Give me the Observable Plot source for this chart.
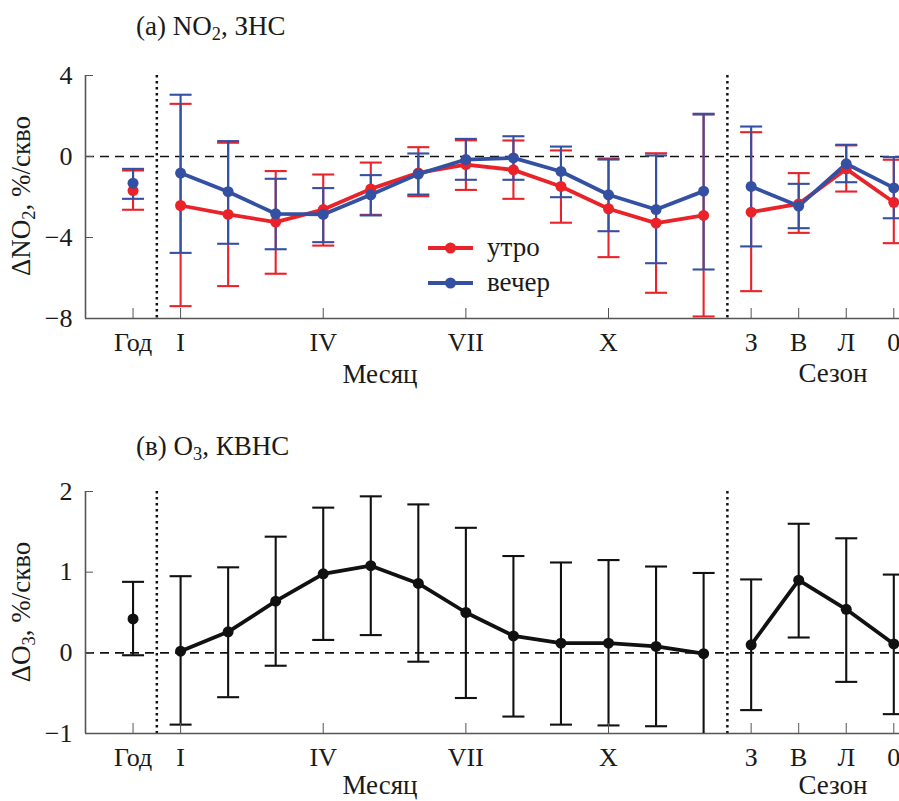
<!DOCTYPE html>
<html>
<head>
<meta charset="utf-8">
<script src="https://cdn.jsdelivr.net/npm/d3@7"></script>
<script src="https://cdn.jsdelivr.net/npm/@observablehq/plot@0.6"></script>
<style>
  html, body { margin: 0; padding: 0; background: #fff; overflow: hidden; }
  body { font-family: "Liberation Serif", "Times New Roman", serif; color: #1a1a1a; }
  .panel { position: relative; width: 899px; }
  .txt { position: absolute; font-size: 27px; line-height: 27px; white-space: nowrap; }
  .sub { font-size: 0.68em; position: relative; top: 0.28em; }
  .ylab { transform: translate(-50%, -50%) rotate(-90deg); }
  .center { transform: translateX(-50%); }
  .legend { position: absolute; display: flex; align-items: center; font-size: 27px; line-height: 27px; }
  .legend svg { margin-right: 14px; }
</style>
</head>
<body>
<div id="topPanel" class="panel" style="height:400px">
  <div class="txt" style="left:136px;top:13px">(а) NO<span class="sub">2</span>, ЗНС</div>
  <div class="txt ylab" style="left:23px;top:196px">ΔNO<span class="sub">2</span>, %/скво</div>
  <div class="txt center" style="left:380px;top:361px">Месяц</div>
  <div class="txt center" style="left:833px;top:360px">Сезон</div>
</div>
<div id="bottomPanel" class="panel" style="height:401px">
  <div class="txt" style="left:136px;top:33px">(в) O<span class="sub">3</span>, КВНС</div>
  <div class="txt ylab" style="left:23px;top:212px">ΔO<span class="sub">3</span>, %/скво</div>
  <div class="txt center" style="left:380px;top:372px">Месяц</div>
  <div class="txt center" style="left:833px;top:372px">Сезон</div>
</div>
<script>
// ---------- data ----------
const categories = ["Год","I","II","III","IV","V","VI","VII","VIII","IX","X","XI","XII","З","В","Л","0"];
const groups = ["год","месяц","месяц","месяц","месяц","месяц","месяц","месяц","месяц","месяц","месяц","месяц","месяц","сезон","сезон","сезон","сезон"];
const tickCategories = ["Год","I","IV","VII","X","З","В","Л","0"];
const seriesNames = ["утро", "вечер"];

// (а) NO2, ЗНС — утро
const no2MorningMean = [-1.68,-2.42,-2.86,-3.24,-2.62,-1.60,-0.81,-0.40,-0.66,-1.48,-2.58,-3.29,-2.91,-2.75,-2.34,-0.61,-2.26];
const no2MorningHi   = [-0.69, 2.60, 0.68,-0.72,-0.89,-0.30, 0.46, 0.80, 0.79, 0.30,-0.10, 0.16, 2.07, 1.20,-0.82, 0.55,-0.16];
const no2MorningLo   = [-2.63,-7.39,-6.40,-5.79,-4.40,-2.88,-1.96,-1.65,-2.09,-3.27,-4.97,-6.73,-7.90,-6.65,-3.77,-1.73,-4.28];
// (а) NO2, ЗНС — вечер
const no2EveningMean = [-1.32,-0.82,-1.74,-2.83,-2.86,-1.89,-0.87,-0.15,-0.07,-0.74,-1.89,-2.62,-1.71,-1.48,-2.45,-0.36,-1.55];
const no2EveningHi   = [-0.61, 3.05, 0.76,-1.10,-1.56,-0.92, 0.15, 0.87, 1.00, 0.49,-0.15, 0.05, 2.11, 1.48,-1.35, 0.58,-0.03];
const no2EveningLo   = [-2.09,-4.76,-4.31,-4.58,-4.23,-2.91,-1.88,-1.15,-1.15,-2.01,-3.69,-5.27,-5.58,-4.44,-3.54,-1.27,-3.05];
// (в) O3, КВНС
const o3Mean = [0.42, 0.02, 0.26, 0.64, 0.98, 1.08, 0.86, 0.50, 0.21, 0.12, 0.12, 0.08,-0.01, 0.10, 0.90, 0.54, 0.11];
const o3Hi   = [0.88, 0.95, 1.06, 1.44, 1.80, 1.94, 1.84, 1.55, 1.20, 1.12, 1.15, 1.07, 0.99, 0.91, 1.60, 1.42, 0.97];
const o3Lo   = [-0.03,-0.89,-0.55,-0.16, 0.16, 0.22,-0.11,-0.56,-0.79,-0.89,-0.90,-0.91,-1.05,-0.71, 0.19,-0.36,-0.76];

const no2YDomain = [-8, 4];
const no2YTicks = [-8, -4, 0, 4];
const o3YDomain = [-1, 2];
const o3YTicks = [-1, 0, 1, 2];

// ---------- helpers ----------
const RED = "#ea2229", BLUE = "#3450a2", BLACK = "#111";
const makeRows = (mean, lo, hi) => categories.map((c, i) => ({i, cat: c, group: groups[i], mean: mean[i], lo: lo[i], hi: hi[i]}));
const separators = [];
for (let i = 1; i < groups.length; i++) if (groups[i] !== groups[i - 1]) separators.push(i - 0.5);
const tickIdx = tickCategories.map(c => categories.indexOf(c));
const xDomain = [-1, categories.length - 1 + 0.12];
const capSymbol = { draw(ctx) { ctx.moveTo(-11, 0); ctx.lineTo(11, 0); } };
const minus = d => (d < 0 ? "\u2212" + Math.abs(d) : String(d));

function panel({series, yDomain, yTicks, height, marginTop, marginBottom}) {
  const marks = [
    Plot.ruleY([0], {stroke: BLACK, strokeWidth: 1.7, strokeDasharray: "9,6"}),
    Plot.ruleX(separators, {stroke: BLACK, strokeWidth: 2.5, strokeDasharray: "2.4,3.6"}),
    Plot.ruleX([xDomain[0]], {stroke: "#555", strokeWidth: 1.6}),
    Plot.ruleY([yDomain[0]], {stroke: "#555", strokeWidth: 1.6})
  ];
  for (const s of series) {
    marks.push(
      Plot.ruleX(s.data, {x: "i", y1: "lo", y2: "hi", stroke: s.color, strokeWidth: 2.1, clip: true}),
      Plot.dot(s.data, {x: "i", y: "lo", symbol: capSymbol, fill: "none", stroke: s.color, strokeWidth: 2.1, clip: true}),
      Plot.dot(s.data, {x: "i", y: "hi", symbol: capSymbol, fill: "none", stroke: s.color, strokeWidth: 2.1, clip: true})
    );
  }
  for (const s of series) {
    marks.push(Plot.line(s.data, {x: "i", y: "mean", z: "group", stroke: s.color, strokeWidth: 3.8}));
  }
  for (const s of series) {
    marks.push(Plot.dot(s.data, {x: "i", y: "mean", r: 5.5, fill: s.color, stroke: "none"}));
  }
  marks.push(
    Plot.axisX({ticks: tickIdx, tickFormat: i => categories[i], tickSize: -10, tickPadding: 24, stroke: "#555", fill: "#1a1a1a", label: null}),
    Plot.axisY({ticks: yTicks, tickFormat: minus, tickSize: -8, tickPadding: 21, stroke: "#555", fill: "#1a1a1a", label: null})
  );
  return Plot.plot({
    width: 899,
    height,
    marginLeft: 85,
    marginRight: 0,
    marginTop,
    marginBottom,
    style: {fontFamily: "'Liberation Serif', 'Times New Roman', serif", fontSize: "26px", background: "transparent", overflow: "visible"},
    x: {domain: xDomain},
    y: {domain: yDomain},
    marks
  });
}

const chartTop = panel({
  series: [
    {data: makeRows(no2MorningMean, no2MorningLo, no2MorningHi), color: RED},
    {data: makeRows(no2EveningMean, no2EveningLo, no2EveningHi), color: BLUE}
  ],
  yDomain: no2YDomain, yTicks: no2YTicks, height: 400, marginTop: 75, marginBottom: 82
});
const chartBottom = panel({
  series: [{data: makeRows(o3Mean, o3Lo, o3Hi), color: BLACK}],
  yDomain: o3YDomain, yTicks: o3YTicks, height: 401, marginTop: 91, marginBottom: 68
});
const topDiv = document.getElementById("topPanel");
const botDiv = document.getElementById("bottomPanel");
topDiv.insertBefore(chartTop, topDiv.firstChild);
botDiv.insertBefore(chartBottom, botDiv.firstChild);

// legend
const legendColors = [RED, BLUE];
seriesNames.forEach((name, k) => {
  const item = document.createElement("div");
  item.className = "legend";
  item.style.left = "428px";
  item.style.top = (234 + k * 35) + "px";
  item.innerHTML = `<svg width="45" height="26"><line x1="0" x2="45" y1="13" y2="13" stroke="${legendColors[k]}" stroke-width="3.8"/><circle cx="22.5" cy="13" r="5.5" fill="${legendColors[k]}"/></svg><span>${name}</span>`;
  topDiv.appendChild(item);
});
</script>
</body>
</html>
